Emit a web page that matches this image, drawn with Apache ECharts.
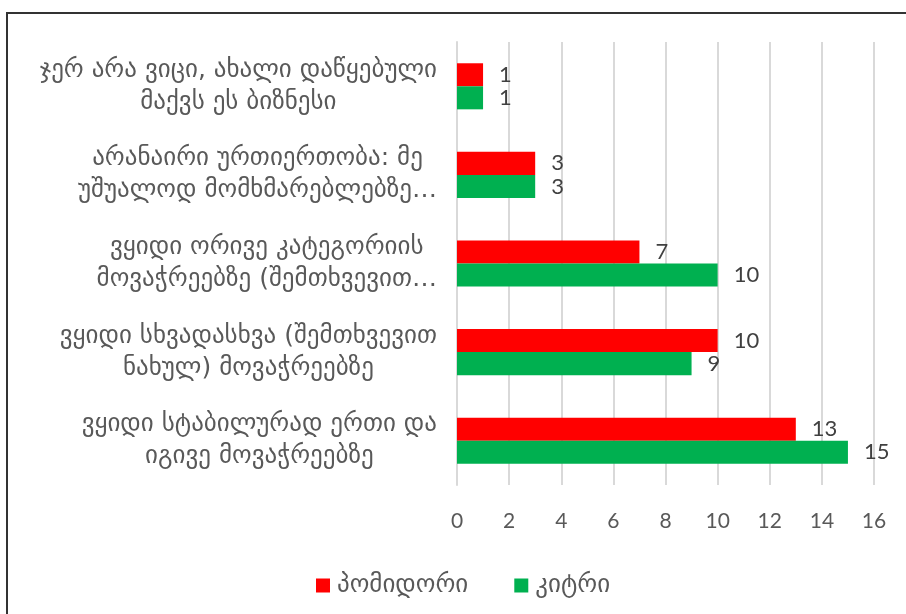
<!DOCTYPE html>
<html>
<head>
<meta charset="utf-8">
<script src="https://cdn.jsdelivr.net/npm/echarts@6/dist/echarts.min.js"></script>
<style>
  html, body { margin: 0; padding: 0; background: #fff; }
  #chart { width: 906px; height: 614px; }
</style>
</head>
<body>
<div id="chart"></div>
<script>
// Survey answers (bottom-to-top order as drawn on the category axis)
const categories = [
  'ვყიდი სტაბილურად ერთი და\nიგივე მოვაჭრეებზე',
  'ვყიდი სხვადასხვა (შემთხვევით\nნახულ) მოვაჭრეებზე',
  'ვყიდი ორივე კატეგორიის\nმოვაჭრეებზე (შემთხვევით…',
  'არანაირი ურთიერთობა: მე\nუშუალოდ მომხმარებლებზე…',
  'ჯერ არა ვიცი, ახალი დაწყებული\nმაქვს ეს ბიზნესი'
];
const seriesNames = ['პომიდორი', 'კიტრი'];
const tomato = [13, 10, 7, 3, 1];
const cucumber = [15, 9, 10, 3, 1];
const xTicks = { min: 0, max: 16, interval: 2 };

const georgianFont = '"DejaVu Sans", sans-serif';
const numberFont = 'Lato, "DejaVu Sans", sans-serif';
const chart = echarts.init(document.getElementById('chart'));

// each wrapped line is centred inside its label block
const centredLines = (text) => text.split('\n').map(l => '{c|' + l + '}').join('\n');

const valueLabel = {
  show: true,
  position: 'right',
  distance: 16,
  color: '#404040',
  fontSize: 22,
  fontFamily: numberFont
};

chart.setOption({
  backgroundColor: '#ffffff',
  animation: false,
  graphic: [
    { type: 'line', shape: { x1: 7, y1: 13, x2: 906, y2: 13 }, style: { stroke: '#333', lineWidth: 2 } },
    { type: 'line', shape: { x1: 7, y1: 12, x2: 7, y2: 614 }, style: { stroke: '#333', lineWidth: 2 } }
  ],
  grid: { left: 457, right: 32, top: 42, bottom: 129, containLabel: false },
  legend: {
    top: 568,
    left: 311,
    itemWidth: 14,
    itemHeight: 14,
    itemGap: 46,
    icon: 'rect',
    textStyle: { color: '#595959', fontSize: 25, fontFamily: georgianFont, padding: [0, 0, 0, 2] },
    data: seriesNames
  },
  xAxis: {
    type: 'value',
    min: xTicks.min,
    max: xTicks.max,
    interval: xTicks.interval,
    axisLine: { show: false },
    axisTick: { show: false },
    splitLine: { show: true, lineStyle: { color: '#d9d9d9', width: 2 } },
    axisLabel: { color: '#595959', fontSize: 21, fontFamily: numberFont, margin: 26 }
  },
  yAxis: {
    type: 'category',
    data: categories,
    axisLine: { show: true, lineStyle: { color: '#d9d9d9', width: 2 } },
    axisTick: { show: false },
    axisLabel: {
      margin: 20,
      align: 'right',
      formatter: centredLines,
      rich: {
        c: {
          align: 'center',
          color: '#595959',
          fontSize: 25,
          lineHeight: 32,
          fontFamily: georgianFont
        }
      }
    }
  },
  series: [
    {
      name: seriesNames[0],
      type: 'bar',
      data: tomato,
      itemStyle: { color: '#ff0000' },
      barGap: '0%',
      barCategoryGap: '48%',
      label: valueLabel
    },
    {
      name: seriesNames[1],
      type: 'bar',
      data: cucumber,
      itemStyle: { color: '#00b050' },
      barGap: '0%',
      barCategoryGap: '48%',
      label: valueLabel
    }
  ]
});
</script>
</body>
</html>
